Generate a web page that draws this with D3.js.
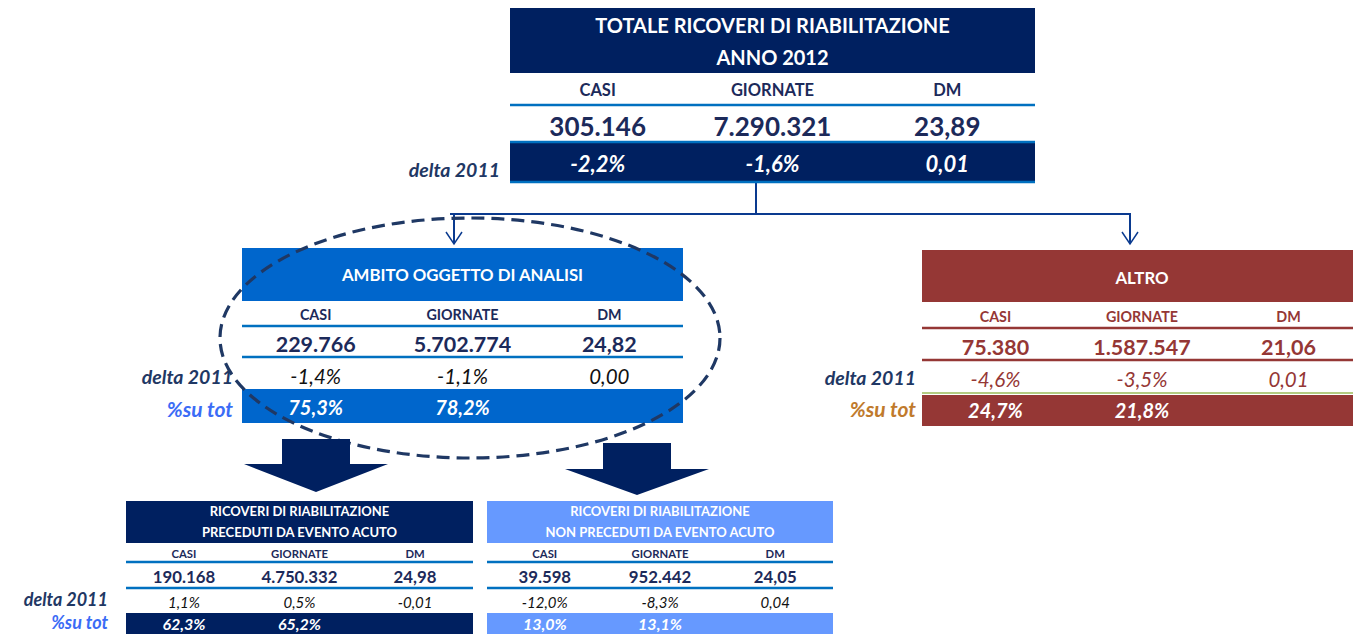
<!DOCTYPE html>
<html>
<head>
<meta charset="utf-8">
<script src="https://cdn.jsdelivr.net/npm/d3@7"></script>
<style>
  html, body { margin: 0; padding: 0; background: #fff; }
  svg { display: block; font-family: Lato, "Open Sans", sans-serif; }
</style>
</head>
<body>
<svg id="chart" width="1353" height="634"></svg>
<script>
// --- data -------------------------------------------------------------
const columns = ["CASI", "GIORNATE", "DM"];

const totaleTitle = ["TOTALE RICOVERI DI RIABILITAZIONE", "ANNO 2012"];
const totaleValues = [305146, 7290321, 23.89];
const totaleDelta = [-0.022, -0.016, 0.01];

const ambitoTitle = ["AMBITO OGGETTO DI ANALISI"];
const ambitoValues = [229766, 5702774, 24.82];
const ambitoDelta = [-0.014, -0.011, 0.00];
const ambitoShare = [0.753, 0.782];

const altroTitle = ["ALTRO"];
const altroValues = [75380, 1587547, 21.06];
const altroDelta = [-0.046, -0.035, 0.01];
const altroShare = [0.247, 0.218];

const precedutiTitle = ["RICOVERI DI RIABILITAZIONE", "PRECEDUTI DA EVENTO ACUTO"];
const precedutiValues = [190168, 4750332, 24.98];
const precedutiDelta = [0.011, 0.005, -0.01];
const precedutiShare = [0.623, 0.652];

const nonPrecedutiTitle = ["RICOVERI DI RIABILITAZIONE", "NON PRECEDUTI DA EVENTO ACUTO"];
const nonPrecedutiValues = [39598, 952442, 24.05];
const nonPrecedutiDelta = [-0.120, -0.083, 0.04];
const nonPrecedutiShare = [0.130, 0.131];

const deltaLabel = "delta 2011";
const shareLabel = "%su tot";

// --- formatting (italian style) ---------------------------------------
const it = d3.formatLocale({ decimal: ",", thousands: ".", grouping: [3], currency: ["", " €"], minus: "-" });
const fmtInt = it.format(",d");
const fmtDec = it.format(".2f");
const fmtPct = it.format(".1%");
const fmtValue = (v, i) => i < 2 ? fmtInt(v) : fmtDec(v);
const fmtDelta = (v, i) => i < 2 ? fmtPct(v) : fmtDec(v);

const NAVY = "#002060";
const INK = "#1c2a5a";
const LINE = "#0070c0";
const COLS = [0.167, 0.5, 0.833];

const svg = d3.select("#chart");

// --- layouts ----------------------------------------------------------
const tables = [
  {
    title: totaleTitle, values: totaleValues, delta: totaleDelta, share: null,
    x: [510, 1035], cols: COLS,
    header: [8, 73], headFill: NAVY, titleY: [25, 57], titleSize: 20,
    colY: 90, colSize: 16.5, colColor: INK,
    line1: 105, valueY: 126, valueSize: 26, valueColor: INK, line2: 142, lineColor: LINE,
    deltaFill: [142, 181], deltaY: 163, deltaSize: 22, deltaColor: "#fff", deltaWeight: "bold",
    bottomLine: 182,
    labelX: 500, labelSize: 19.5, shareLabelSize: 21, deltaLabelY: 169
  },
  {
    title: ambitoTitle, values: ambitoValues, delta: ambitoDelta, share: ambitoShare,
    x: [242, 683], cols: COLS,
    header: [248, 301], headFill: "#0066cc", titleY: [274], titleSize: 16.8,
    colY: 314, colSize: 14.3, colColor: INK,
    line1: 326, valueY: 344, valueSize: 21.5, valueColor: INK, line2: 357, lineColor: LINE,
    deltaY: 376, deltaSize: 20.5, deltaColor: "#111", deltaWeight: "normal",
    shareFill: [389, 423], shareColor: "#0066cc", shareY: 407, shareSize: 20,
    labelX: 233, labelSize: 19.5, shareLabelSize: 21, deltaLabelY: 376, shareLabelY: 408, shareLabelColor: "#3b6cf6"
  },
  {
    title: altroTitle, values: altroValues, delta: altroDelta, share: altroShare,
    x: [922, 1362], cols: COLS,
    header: [250, 302], headFill: "#953735", titleY: [277], titleSize: 16.8,
    colY: 316, colSize: 14.3, colColor: "#953735",
    line1: 328, valueY: 347, valueSize: 21.5, valueColor: "#953735", line2: 360, lineColor: "#953735",
    deltaY: 379, deltaSize: 20.5, deltaColor: "#953735", deltaWeight: "normal",
    greenLine: 393,
    shareFill: [395, 426], shareColor: "#953735", shareY: 410, shareSize: 20,
    labelX: 916, labelSize: 19.5, shareLabelSize: 21, deltaLabelY: 377, shareLabelY: 408, shareLabelColor: "#c07a2c"
  },
  {
    title: precedutiTitle, values: precedutiValues, delta: precedutiDelta, share: precedutiShare,
    x: [126, 473], cols: COLS,
    header: [501, 543], headFill: NAVY, titleY: [511, 532], titleSize: 13,
    colY: 553, colSize: 11.3, colColor: INK,
    line1: 562, valueY: 576, valueSize: 16.8, valueColor: INK, line2: 588, lineColor: LINE,
    deltaY: 602, deltaSize: 15, deltaColor: "#111", deltaWeight: "normal",
    shareFill: [613, 640], shareColor: NAVY, shareY: 623, shareSize: 16,
    labelX: 108, labelSize: 18, shareLabelSize: 18, deltaLabelY: 599, shareLabelY: 622, shareLabelColor: "#3b6cf6"
  },
  {
    title: nonPrecedutiTitle, values: nonPrecedutiValues, delta: nonPrecedutiDelta, share: nonPrecedutiShare,
    x: [487, 833], cols: COLS,
    header: [501, 543], headFill: "#6699ff", titleY: [511, 532], titleSize: 13,
    colY: 553, colSize: 11.3, colColor: INK,
    line1: 562, valueY: 576, valueSize: 16.8, valueColor: INK, line2: 588, lineColor: LINE,
    deltaY: 602, deltaSize: 15, deltaColor: "#111", deltaWeight: "normal",
    shareFill: [613, 640], shareColor: "#6699ff", shareY: 623, shareSize: 16
  }
];

// --- connectors from the total box ------------------------------------
const conn = svg.append("g").attr("stroke", "#0a3a8f").attr("stroke-width", 2).attr("fill", "none");
conn.append("line").attr("x1", 756).attr("y1", 182).attr("x2", 756).attr("y2", 214);
conn.append("line").attr("x1", 450).attr("y1", 214).attr("x2", 1131).attr("y2", 214);
[454, 1130].forEach(x => {
  conn.append("line").attr("x1", x).attr("y1", 214).attr("x2", x).attr("y2", 244);
  conn.append("path").attr("stroke-width", 1.5).attr("d", `M${x - 8},232 L${x},244 L${x + 8},232`);
});

/**
 * Draw one summary table (header band, column labels, values, delta, share).
 */
function drawTable(t) {
  const g = svg.append("g");
  const xs = d3.scaleLinear().domain([0, 1]).range(t.x);
  const w = t.x[1] - t.x[0];

  g.append("rect").attr("x", t.x[0]).attr("y", t.header[0])
    .attr("width", w).attr("height", t.header[1] - t.header[0]).attr("fill", t.headFill);
  g.selectAll("text.title").data(t.title).join("text").attr("class", "title")
    .attr("x", xs(0.5)).attr("y", (d, i) => t.titleY[i])
    .attr("text-anchor", "middle").attr("dominant-baseline", "central")
    .attr("font-size", t.titleSize).attr("font-weight", "bold").attr("fill", "#fff")
    .text(d => d);

  g.selectAll("text.col").data(columns).join("text").attr("class", "col")
    .attr("x", (d, i) => xs(t.cols[i])).attr("y", t.colY)
    .attr("text-anchor", "middle").attr("dominant-baseline", "central")
    .attr("font-size", t.colSize).attr("font-weight", "bold").attr("fill", t.colColor)
    .text(d => d);

  if (t.deltaFill) {
    g.append("rect").attr("x", t.x[0]).attr("y", t.deltaFill[0])
      .attr("width", w).attr("height", t.deltaFill[1] - t.deltaFill[0]).attr("fill", NAVY);
  }
  if (t.shareFill) {
    g.append("rect").attr("x", t.x[0]).attr("y", t.shareFill[0])
      .attr("width", w).attr("height", t.shareFill[1] - t.shareFill[0]).attr("fill", t.shareColor);
  }

  [t.line1, t.line2, t.bottomLine].filter(y => y != null).forEach(y => {
    g.append("line").attr("x1", t.x[0]).attr("x2", t.x[1]).attr("y1", y).attr("y2", y)
      .attr("stroke", t.lineColor).attr("stroke-width", 2.5);
  });
  if (t.greenLine) {
    g.append("line").attr("x1", t.x[0]).attr("x2", t.x[1]).attr("y1", t.greenLine).attr("y2", t.greenLine)
      .attr("stroke", "#9bbb59").attr("stroke-width", 1.5);
  }

  g.selectAll("text.val").data(t.values).join("text").attr("class", "val")
    .attr("x", (d, i) => xs(t.cols[i])).attr("y", t.valueY)
    .attr("text-anchor", "middle").attr("dominant-baseline", "central")
    .attr("font-size", t.valueSize).attr("font-weight", "bold").attr("fill", t.valueColor)
    .text(fmtValue);

  g.selectAll("text.delta").data(t.delta).join("text").attr("class", "delta")
    .attr("x", (d, i) => xs(t.cols[i])).attr("y", t.deltaY)
    .attr("text-anchor", "middle").attr("dominant-baseline", "central")
    .attr("font-size", t.deltaSize).attr("font-weight", t.deltaWeight)
    .attr("font-style", "italic").attr("fill", t.deltaColor)
    .text(fmtDelta);

  if (t.share) {
    g.selectAll("text.share").data(t.share).join("text").attr("class", "share")
      .attr("x", (d, i) => xs(t.cols[i])).attr("y", t.shareY)
      .attr("text-anchor", "middle").attr("dominant-baseline", "central")
      .attr("font-size", t.shareSize).attr("font-weight", "bold")
      .attr("font-style", "italic").attr("fill", "#fff")
      .text(d => fmtPct(d));
  }

  if (t.labelX != null) {
    g.append("text").attr("x", t.labelX).attr("y", t.deltaLabelY)
      .attr("text-anchor", "end").attr("dominant-baseline", "central")
      .attr("font-size", t.labelSize).attr("font-weight", "bold").attr("font-style", "italic")
      .attr("fill", "#1f3864").text(deltaLabel);
    if (t.share) {
      g.append("text").attr("x", t.labelX).attr("y", t.shareLabelY)
        .attr("text-anchor", "end").attr("dominant-baseline", "central")
        .attr("font-size", t.shareLabelSize).attr("font-weight", "bold").attr("font-style", "italic")
        .attr("fill", t.shareLabelColor).text(shareLabel);
    }
  }
}

tables.forEach(drawTable);

// dashed ellipse round the analysed scope
svg.append("ellipse")
  .attr("cx", 470).attr("cy", 338).attr("rx", 250).attr("ry", 120)
  .attr("fill", "none").attr("stroke", "#1f3864").attr("stroke-width", 3.2)
  .attr("stroke-dasharray", "13 7");

// big block arrows down to the two sub-tables
const blockArrow = (cx, top, neck, tip, shaftHalf, headHalf) =>
  `M${cx - shaftHalf},${top} L${cx + shaftHalf},${top} L${cx + shaftHalf},${neck} L${cx + headHalf},${neck}` +
  ` L${cx},${tip} L${cx - headHalf},${neck} L${cx - shaftHalf},${neck} Z`;
svg.append("path").attr("d", blockArrow(316, 439, 464, 492, 34, 72)).attr("fill", NAVY);
svg.append("path").attr("d", blockArrow(637, 443, 469, 495, 34, 72)).attr("fill", NAVY);
</script>
</body>
</html>
